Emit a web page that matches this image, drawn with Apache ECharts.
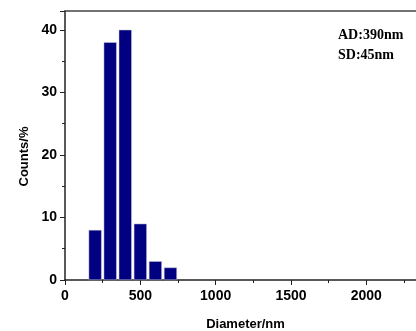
<!DOCTYPE html>
<html>
<head>
<meta charset="utf-8">
<script src="https://cdn.jsdelivr.net/npm/echarts@6/dist/echarts.min.js"></script>
<style>
  html, body { margin: 0; padding: 0; background: #fff; }
  #chart { width: 416px; height: 331px; }
</style>
</head>
<body>
<div id="chart"></div>
<script>
// bin centres (nm) and counts (%)
var diameters = [200, 300, 400, 500, 600, 700];
var counts = [8, 38, 40, 9, 3, 2];
var xTicks = [0, 500, 1000, 1500, 2000];
var yTicks = [0, 10, 20, 30, 40];
var statsText = ["AD:390nm", "SD:45nm"];

var chart = echarts.init(document.getElementById("chart"));

var axisFont = {
  fontFamily: "Liberation Sans",
  fontWeight: "bold",
  fontSize: 14,
  color: "#000"
};
var axisColor = "#222";

var option = {
  animation: false,
  title: {
    text: statsText.join("\n"),
    left: 333,
    top: 20,
    textStyle: {
      fontFamily: "Liberation Serif",
      fontWeight: "bold",
      fontSize: 14,
      lineHeight: 20,
      color: "#000"
    }
  },
  grid: {
    left: 65,
    top: 11,
    right: 0,
    bottom: 51,
    outerBoundsMode: "none"
  },
  xAxis: [{
    type: "value",
    min: 0,
    max: 2330, // picture is cut off just past this value
    interval: 500,
    name: "Diameter/nm",
    nameLocation: "middle",
    nameGap: 38,
    nameTextStyle: {
      fontFamily: "Liberation Sans",
      fontWeight: "bold",
      fontSize: 13,
      color: "#000",
      padding: [0, 0, 0, 10]
    },
    axisLine: { onZero: false, lineStyle: { color: axisColor, width: 1.5 } },
    axisTick: { show: true, inside: false, length: 5, lineStyle: { color: axisColor } },
    minorTick: { show: true, splitNumber: 2, length: 3, lineStyle: { color: axisColor } },
    axisLabel: Object.assign({
      margin: 9,
      showMaxLabel: false,
      formatter: function (v) { return xTicks.indexOf(v) >= 0 ? String(v) : ""; }
    }, axisFont),
    splitLine: { show: false }
  }, {
    // top frame line
    type: "value",
    position: "top",
    min: 0,
    max: 2330,
    axisLine: { show: true, onZero: false, lineStyle: { color: "#444", width: 1.5 } },
    axisTick: { show: false },
    axisLabel: { show: false },
    splitLine: { show: false }
  }],
  yAxis: {
    type: "value",
    min: 0,
    max: 43,
    interval: 10,
    name: "Counts/%",
    nameLocation: "middle",
    nameGap: 29,
    nameTextStyle: {
      fontFamily: "Liberation Sans",
      fontWeight: "bold",
      fontSize: 13,
      color: "#000",
      padding: [0, 22, 0, 0]
    },
    axisLine: { show: true, lineStyle: { color: axisColor, width: 1.5 } },
    axisTick: { show: true, inside: false, length: 5, lineStyle: { color: axisColor } },
    minorTick: { show: true, splitNumber: 2, length: 3, lineStyle: { color: axisColor } },
    axisLabel: Object.assign({
      margin: 8,
      showMaxLabel: false,
      formatter: function (v) { return yTicks.indexOf(v) >= 0 ? String(v) : ""; }
    }, axisFont),
    splitLine: { show: false }
  },
  series: [{
    type: "bar",
    xAxisIndex: 0,
    data: diameters.map(function (d, i) { return [d, counts[i]]; }),
    barWidth: 13,
    itemStyle: {
      color: "#000080",
      borderColor: "#c8c8d8",
      borderWidth: 0.5
    }
  }]
};

chart.setOption(option);
</script>
</body>
</html>
